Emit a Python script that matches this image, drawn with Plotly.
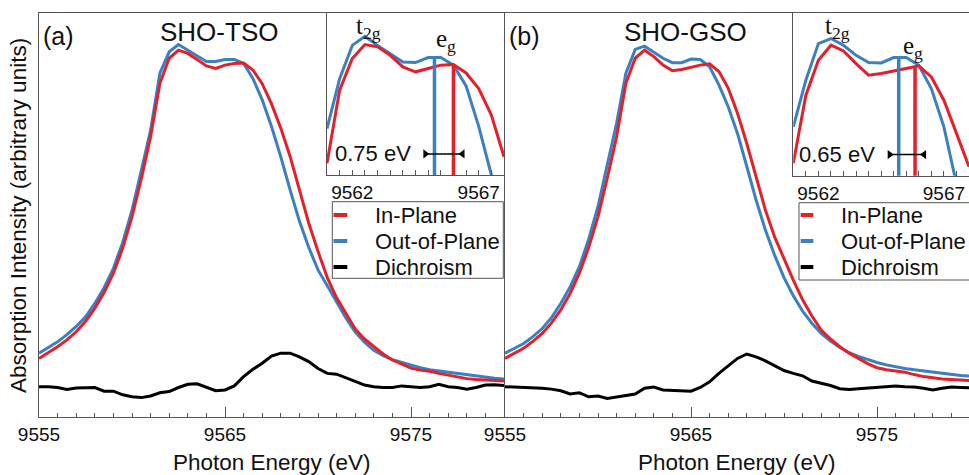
import numpy as np
import plotly.graph_objects as go

# ---------------- data ----------------
energy = [9555 + 0.5 * i for i in range(51)]

in_plane_a = [0.145, 0.159, 0.174, 0.191, 0.211, 0.237, 0.269, 0.308, 0.356, 0.418,
              0.496, 0.590, 0.694, 0.826, 0.888, 0.908, 0.900, 0.885, 0.869, 0.863,
              0.871, 0.875, 0.876, 0.859, 0.825, 0.775, 0.715, 0.645, 0.562, 0.480,
              0.410, 0.345, 0.295, 0.255, 0.218, 0.193, 0.174, 0.156, 0.141, 0.130,
              0.121, 0.116, 0.113, 0.108, 0.104, 0.099, 0.095, 0.093, 0.092, 0.091, 0.089]
out_plane_a = [0.158, 0.172, 0.186, 0.204, 0.224, 0.248, 0.281, 0.320, 0.368, 0.432,
               0.512, 0.610, 0.710, 0.851, 0.904, 0.922, 0.908, 0.892, 0.880, 0.880,
               0.885, 0.885, 0.875, 0.838, 0.785, 0.719, 0.644, 0.562, 0.485, 0.420,
               0.364, 0.325, 0.285, 0.245, 0.210, 0.185, 0.165, 0.152, 0.142, 0.135,
               0.128, 0.122, 0.117, 0.114, 0.111, 0.107, 0.104, 0.101, 0.099, 0.096, 0.094]
dichroism_a = [0.075, 0.075, 0.073, 0.068, 0.072, 0.073, 0.073, 0.064, 0.064, 0.055,
               0.050, 0.048, 0.052, 0.060, 0.063, 0.073, 0.081, 0.082, 0.073, 0.065,
               0.067, 0.077, 0.100, 0.118, 0.133, 0.151, 0.158, 0.158, 0.149, 0.137,
               0.120, 0.108, 0.106, 0.096, 0.088, 0.079, 0.075, 0.073, 0.073, 0.077,
               0.075, 0.073, 0.075, 0.081, 0.075, 0.073, 0.069, 0.073, 0.079, 0.080, 0.078]

in_plane_b = [0.145, 0.157, 0.170, 0.187, 0.207, 0.233, 0.265, 0.306, 0.356, 0.420,
              0.496, 0.592, 0.694, 0.826, 0.888, 0.908, 0.892, 0.871, 0.857, 0.860,
              0.866, 0.871, 0.874, 0.855, 0.814, 0.752, 0.677, 0.595, 0.512, 0.445,
              0.390, 0.339, 0.290, 0.250, 0.215, 0.193, 0.174, 0.158, 0.145, 0.132,
              0.122, 0.117, 0.114, 0.111, 0.105, 0.100, 0.097, 0.094, 0.093, 0.091, 0.090]
out_plane_b = [0.158, 0.170, 0.182, 0.199, 0.219, 0.246, 0.281, 0.322, 0.372, 0.440,
               0.521, 0.625, 0.727, 0.851, 0.910, 0.918, 0.904, 0.888, 0.877, 0.877,
               0.886, 0.885, 0.867, 0.822, 0.768, 0.702, 0.620, 0.537, 0.463, 0.400,
               0.345, 0.300, 0.262, 0.232, 0.207, 0.188, 0.172, 0.159, 0.150, 0.142,
               0.135, 0.129, 0.124, 0.120, 0.117, 0.114, 0.111, 0.108, 0.105, 0.103, 0.101]
dichroism_b = [0.075, 0.074, 0.074, 0.073, 0.071, 0.069, 0.065, 0.057, 0.060, 0.050,
               0.052, 0.046, 0.050, 0.054, 0.057, 0.071, 0.074, 0.067, 0.066, 0.065,
               0.064, 0.073, 0.087, 0.108, 0.126, 0.145, 0.156, 0.149, 0.139, 0.127,
               0.115, 0.108, 0.102, 0.089, 0.084, 0.078, 0.070, 0.068, 0.070, 0.072,
               0.073, 0.075, 0.077, 0.075, 0.074, 0.071, 0.067, 0.071, 0.074, 0.073, 0.072]

# inset (zoomed view of the pre-peak region)
inset_energy = [9561 + 0.5 * i for i in range(15)]
inset_in_a = [0.072, 0.524, 0.719, 0.805, 0.791, 0.739, 0.667, 0.637, 0.657, 0.678,
              0.682, 0.630, 0.534, 0.370, 0.113]
inset_out_a = [0.287, 0.595, 0.800, 0.856, 0.800, 0.749, 0.698, 0.694, 0.725, 0.725,
               0.678, 0.550, 0.300, 0.000, -0.300]
inset_in_b = [0.076, 0.495, 0.710, 0.802, 0.767, 0.689, 0.618, 0.628, 0.644, 0.658,
              0.675, 0.607, 0.464, 0.260, 0.055]
inset_out_b = [0.300, 0.587, 0.812, 0.843, 0.802, 0.740, 0.695, 0.693, 0.726, 0.726,
               0.679, 0.536, 0.300, -0.050, -0.400]

eg_out_a, eg_in_a = 9565.25, 9566.00   # 0.75 eV
eg_out_b, eg_in_b = 9565.20, 9565.85   # 0.65 eV

main_ticks = [9555, 9565, 9575]
inset_ticks = [9562, 9567]
legend_names = ["In-Plane", "Out-of-Plane", "Dichroism"]

# ---------------- style ----------------
RED = "#e5202a"
BLUE = "#3b80c2"
BLACK = "#000000"
FRAME = "#555555"
TXT = "#111111"
SANS = "Liberation Sans, Arial, sans-serif"
SERIF = "Liberation Serif, Times New Roman, serif"
W, H = 969, 475
ML, MR, MT, MB = 39, 0, 13, 58
PW, PH = W - ML - MR, H - MT - MB


def px_x(x):
    return (x - ML) / PW


def px_y(y):
    return (H - MB - y) / PH


fig = go.Figure()

panels = [
    dict(xa="x", ya="y", ix="x3", iy="y3", inp=in_plane_a, outp=out_plane_a, dic=dichroism_a,
         iin=inset_in_a, iout=inset_out_a, eo=eg_out_a, ei=eg_in_a, gap="0.75 eV"),
    dict(xa="x2", ya="y2", ix="x4", iy="y4", inp=in_plane_b, outp=out_plane_b, dic=dichroism_b,
         iin=inset_in_b, iout=inset_out_b, eo=eg_out_b, ei=eg_in_b, gap="0.65 eV"),
]

for p in panels:
    fig.add_trace(go.Scatter(x=energy, y=p["outp"], mode="lines", line=dict(color=BLUE, width=3),
                             xaxis=p["xa"], yaxis=p["ya"], showlegend=False, name="Out-of-Plane"))
    fig.add_trace(go.Scatter(x=energy, y=p["inp"], mode="lines", line=dict(color=RED, width=3),
                             xaxis=p["xa"], yaxis=p["ya"], showlegend=False, name="In-Plane"))
    fig.add_trace(go.Scatter(x=energy, y=p["dic"], mode="lines", line=dict(color=BLACK, width=3),
                             xaxis=p["xa"], yaxis=p["ya"], showlegend=False, name="Dichroism"))
    # inset
    fig.add_trace(go.Scatter(x=inset_energy, y=p["iout"], mode="lines", line=dict(color=BLUE, width=3),
                             xaxis=p["ix"], yaxis=p["iy"], showlegend=False))
    fig.add_trace(go.Scatter(x=inset_energy, y=p["iin"], mode="lines", line=dict(color=RED, width=3),
                             xaxis=p["ix"], yaxis=p["iy"], showlegend=False))
    top_o = float(np.interp(p["eo"], inset_energy, p["iout"]))
    top_i = float(np.interp(p["ei"], inset_energy, p["iin"]))
    fig.add_trace(go.Scatter(x=[p["eo"], p["eo"]], y=[-0.05, top_o], mode="lines",
                             line=dict(color=BLUE, width=3.5), xaxis=p["ix"], yaxis=p["iy"], showlegend=False))
    fig.add_trace(go.Scatter(x=[p["ei"], p["ei"]], y=[-0.05, top_i], mode="lines",
                             line=dict(color=RED, width=3.5), xaxis=p["ix"], yaxis=p["iy"], showlegend=False))
    fig.add_trace(go.Scatter(x=[p["eo"] - 0.36, p["ei"] + 0.36], y=[0.13, 0.13], mode="lines+markers",
                             line=dict(color=BLACK, width=1.5),
                             marker=dict(symbol=["triangle-right", "triangle-left"], size=8, color=BLACK),
                             xaxis=p["ix"], yaxis=p["iy"], showlegend=False))

axis_common = dict(showline=True, mirror=True, linecolor=FRAME, linewidth=1, showgrid=False,
                   zeroline=False)

main_x = dict(axis_common, range=[9555, 9580], tickmode="array", tickvals=main_ticks,
              ticks="inside", ticklen=10, tickcolor=FRAME, tickwidth=1,
              tickfont=dict(family=SANS, size=19, color=TXT),
              minor=dict(dtick=1, tick0=9555, ticks="inside", ticklen=4, tickcolor=FRAME))
main_y = dict(axis_common, range=[0, 1], showticklabels=False, ticks="")
inset_x = dict(axis_common, range=[9561, 9568], tickmode="array", tickvals=inset_ticks,
               ticks="inside", ticklen=5, tickcolor=FRAME, tickwidth=1,
               tickfont=dict(family=SANS, size=19, color=TXT),
               minor=dict(dtick=0.5, tick0=9561, ticks="inside", ticklen=5, tickcolor=FRAME))
inset_y = dict(axis_common, range=[0, 1], showticklabels=False, ticks="")

fig.update_layout(
    width=W, height=H, margin=dict(l=ML, r=MR, t=MT, b=MB),
    paper_bgcolor="white", plot_bgcolor="white",
    xaxis=dict(main_x, domain=[0, 465 / PW], anchor="y"),
    yaxis=dict(main_y, domain=[0, 1], anchor="x"),
    xaxis2=dict(main_x, domain=[466 / PW, 1], anchor="y2", range=[9555, 9555 + (PW - 466) / 18.6]),
    yaxis2=dict(main_y, domain=[0, 1], anchor="x2"),
    xaxis3=dict(inset_x, domain=[px_x(327), 465 / PW], anchor="y3"),
    yaxis3=dict(inset_y, domain=[px_y(175), 1], anchor="x3"),
    xaxis4=dict(inset_x, domain=[px_x(793.3), 1], anchor="y4"),
    yaxis4=dict(inset_y, domain=[px_y(175.7), 1], anchor="x4"),
    showlegend=False,
)

ann = []
# panel labels & titles
for xr, yr, lab, title in [("x", "y", "(a)", "SHO-TSO"), ("x2", "y2", "(b)", "SHO-GSO")]:
    ann.append(dict(x=9556.05, y=0.943, xref=xr, yref=yr, text=lab, showarrow=False,
                    xanchor="center", yanchor="middle",
                    font=dict(family=SANS, size=25, color=TXT)))
    ann.append(dict(x=9564.7, y=0.952, xref=xr, yref=yr, text=title, showarrow=False,
                    xanchor="center", yanchor="middle",
                    font=dict(family=SANS, size=26, color=TXT)))
# inset labels
for p, tx, ex, ey in [(panels[0], 9562.64, 9565.72, 0.83), (panels[1], 9562.75, 9565.78, 0.79)]:
    ann.append(dict(x=tx, y=0.91, xref=p["ix"], yref=p["iy"], text="t<sub>2g</sub>", showarrow=False,
                    xanchor="center", yanchor="middle",
                    font=dict(family=SERIF, size=25, color=TXT)))
    ann.append(dict(x=ex, y=ey, xref=p["ix"], yref=p["iy"], text="e<sub>g</sub>", showarrow=False,
                    xanchor="center", yanchor="middle",
                    font=dict(family=SERIF, size=25, color=TXT)))
    ann.append(dict(x=p["eo"] - 0.85, y=0.13, xref=p["ix"], yref=p["iy"], text=p["gap"],
                    showarrow=False, xanchor="right", yanchor="middle",
                    font=dict(family=SANS, size=22, color=TXT)))
# axis titles
for cx in [(39 + 504) / 2, (505 + 969) / 2]:
    ann.append(dict(x=px_x(cx), y=px_y(462), xref="paper", yref="paper", text="Photon Energy (eV)",
                    showarrow=False, xanchor="center", yanchor="middle",
                    font=dict(family=SANS, size=22.5, color=TXT)))
ann.append(dict(x=px_x(18), y=px_y(216), xref="paper", yref="paper",
                text="Absorption Intensity (arbitrary units)", textangle=-90, showarrow=False,
                xanchor="center", yanchor="middle",
                font=dict(family=SANS, size=22.5, color=TXT)))

# manual legends
shapes = []
colors = [RED, BLUE, BLACK]
for (bx0, bx1, by0, by1, lx0, lx1, tx) in [(332.3, 503.3, 201.7, 278.3, 333.5, 347.3, 372.7),
                                           (799, 975, 202.7, 280, 800.7, 813.3, 839.3)]:
    shapes.append(dict(type="rect", xref="paper", yref="paper", x0=px_x(bx0), x1=px_x(bx1),
                       y0=px_y(by1), y1=px_y(by0), line=dict(color=FRAME, width=1),
                       fillcolor="white", layer="above"))
    for k, (name, col) in enumerate(zip(legend_names, colors)):
        yy = 215 + k * 26
        shapes.append(dict(type="line", xref="paper", yref="paper", x0=px_x(lx0), x1=px_x(lx1),
                           y0=px_y(yy), y1=px_y(yy), line=dict(color=col, width=4), layer="above"))
        ann.append(dict(x=px_x(tx), y=px_y(yy), xref="paper", yref="paper", text=name,
                        showarrow=False, xanchor="left", yanchor="middle",
                        font=dict(family=SANS, size=22, color=TXT)))

fig.update_layout(annotations=ann, shapes=shapes)
fig.write_html("out.html")
